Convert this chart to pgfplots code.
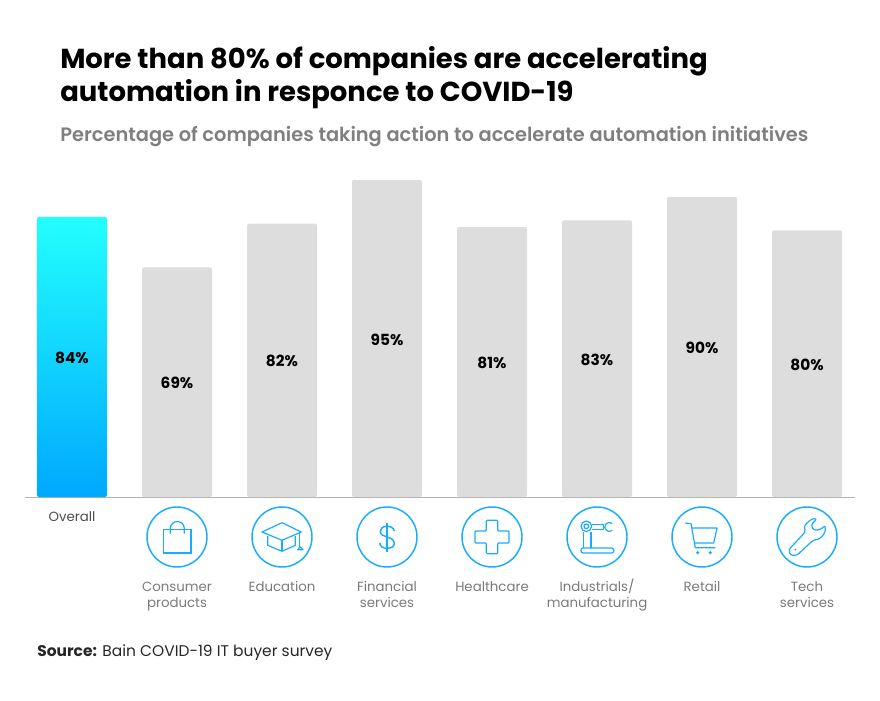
\documentclass[border=0pt]{standalone}
\usepackage{fontspec}
\setmainfont{Poppins}
\newfontfamily\semib{Poppins SemiBold}
\usepackage{pgfplots}
\usepackage{pgfplotstable}
\pgfplotsset{compat=1.18}

% 1 reference pixel
\newlength\px
\setlength\px{0.75pt}

\definecolor{barblue}{HTML}{00A8FF}
\definecolor{bartop}{HTML}{22FFFF}
\definecolor{bargray}{HTML}{DDDDDD}
\definecolor{iconblue}{HTML}{18ACFF}
\definecolor{subgray}{HTML}{7F7F7F}
\definecolor{labgray}{HTML}{7A7A7A}

\pgfplotstableread{
x v
0 84
}\overalltable
\pgfplotstableread{
x v
1 69
2 82
3 95
4 81
5 83
6 90
7 80
}\sectortable

\begin{document}
\begin{tikzpicture}[x=1\px,y=1\px]
\path[use as bounding box] (0,0) rectangle (880,700);

\node[anchor=base west,inner sep=0,font=\fontsize{20.6}{24}\selectfont\bfseries,text=black] at (60,631) {More than 80\% of companies are accelerating};
\node[anchor=base west,inner sep=0,font=\fontsize{20.6}{24}\selectfont\bfseries,text=black] at (60,598) {automation in responce to COVID-19};
\node[anchor=base west,inner sep=0,font=\fontsize{14.55}{18}\selectfont\semib,text=subgray] at (60,558) {Percentage of companies taking action to accelerate automation initiatives};

\begin{axis}[
    at={(25\px,203\px)},
    anchor=south west,
    scale only axis,
    width=622.5pt,
    height=250.3pt,
    xmin=-0.4476, xmax=7.457,
    ymin=0.6, ymax=100,
    ybar,
    bar width=52.5pt,
    bar shift=0pt,
    axis x line=bottom,
    axis y line=none,
    axis line style={draw=gray!60,-},
    xtick={1,...,7},
    xticklabels={{Consumer\\products},{Education},{Financial\\services},{Healthcare},{Industrials\smash{/}\\manufacturing},{Retail},{Tech\\services}},
    major tick length=0pt,
    xticklabel style={anchor=north,align=center,text=labgray,yshift=-80\px,font=\fontsize{10}{12}\selectfont},
    extra x ticks={0},
    extra x tick labels={Overall},
    extra x tick style={xticklabel style={yshift=70\px,text=black!70}},
    nodes near coords={\pgfmathprintnumber[assume math mode=true]{\pgfplotspointmeta}\%},
    point meta=y,
    visualization depends on={y/2 \as \halfv},
    every node near coord/.append style={
        anchor=center,
        shift={(axis direction cs:0,-\halfv)},
        text=black,
        font=\fontsize{11.5}{13}\selectfont\bfseries
    },
]
\addplot[draw=none,top color=bartop,bottom color=barblue,rounded corners=2\px] table[x=x,y=v] {\overalltable};
\addplot[draw=none,fill=bargray,rounded corners=2\px] table[x=x,y=v] {\sectortable};
\end{axis}

% icons, offsets in px from the centre of each circle
\begin{scope}[shift={(0,700)},y=-1\px,draw=iconblue,line width=1.1pt]
\foreach \cx in {177,282,387,492,597,702,807}
    \draw (\cx,537) circle[radius=30];
\begin{scope}[shift={(177,537)},line width=.9pt]
    \draw (-13.3,-7.7) rectangle (14,16);
    \draw (-6.7,-3.3) -- (-6.7,-8.5) arc[start angle=180,end angle=360,radius=7] -- (7.3,-3.3);
\end{scope}
\begin{scope}[shift={(282,537)},line width=.9pt,line join=round]
    \draw (-20,-5) -- (0,-14.3) -- (19.3,-5) -- (0,3.3) -- cycle;
    \draw (-14.3,-1) -- (-14.3,8.3) -- (0,14.3) -- (13.3,8.3) -- (13.3,-1);
    \draw (0,3.3) -- (0,14.3);
    \draw (17.7,-5) -- (17.7,10.7);
    \draw (15.7,12.7) -- (18.3,10) -- (21,12.7) -- cycle;
\end{scope}
\begin{scope}[shift={(387,537)},line width=1.1pt]
    \draw (7.3,-6) .. controls (6.5,-9.5) and (3.5,-10.7) .. (0,-10.7)
          .. controls (-4,-10.7) and (-6.7,-8.7) .. (-6.7,-6)
          .. controls (-6.7,-2) and (-3,-1) .. (0,0)
          .. controls (3.5,1) and (7.3,2.5) .. (7.3,6.7)
          .. controls (7.3,9.5) and (4,11.3) .. (0,11.3)
          .. controls (-4,11.3) and (-7,9.5) .. (-7.3,6);
    \draw (0,-14.3) -- (0,15);
\end{scope}
\begin{scope}[shift={(492,537)},line width=.9pt,rounded corners=1\px]
    \draw (-5.7,-16.7) -- (5.7,-16.7) -- (5.7,-6) -- (17,-6) -- (17,6) -- (5.7,6)
          -- (5.7,16.7) -- (-5.7,16.7) -- (-5.7,6) -- (-17,6) -- (-17,-6) -- (-5.7,-6) -- cycle;
\end{scope}
\begin{scope}[shift={(597,537)},line width=.9pt]
    \draw[rounded corners=2\px] (-16,11) rectangle (16.7,16);
    \draw (-13.3,-5) -- (-13.3,11) (-6,-5) -- (-6,11);
    \draw (-10.7,-10.7) circle[radius=5.3];
    \draw (-10.7,-10.7) circle[radius=2.3];
    \draw (-5,-12.3) -- (6.7,-12.3) -- (6.7,-7.3) -- (-5,-7.3);
    \draw (15.2,-13.5) arc[start angle=-50,end angle=-310,radius=4.5];
\end{scope}
\begin{scope}[shift={(702,537)},line width=.9pt,line join=round]
    \draw (-16.7,-14) -- (-11,-13.3) -- (-6.7,10.7) -- (13.3,10.7);
    \draw (-10,-9) -- (15,-9) -- (11.7,6) -- (-7.7,6);
    \fill[iconblue] (-4.3,15.7) circle[radius=1.7] (8.3,15.7) circle[radius=1.7];
\end{scope}
\begin{scope}[shift={(807,537)},line width=.9pt]
    \draw[rounded corners=2.5\px] (-18.3,12.7) -- (-1.7,-5) -- (-2.7,-11.7) -- (5,-18.3) -- (10,-18.3) -- (4,-12.3)
          -- (6.7,-6.7) -- (13.3,-7.3) -- (18.3,-11.7) -- (18.3,-5) -- (13.3,1.7) -- (6,3.3) -- (-10,18.3) -- (-16.7,18.3) -- cycle;
    \fill[iconblue] (-11.7,12.7) circle[radius=1];
\end{scope}
\end{scope}

\node[anchor=base west,inner sep=0,font=\fontsize{11.6}{14}\selectfont,text=black!85] at (37,44) {\textbf{Source:} Bain COVID-19 IT buyer survey};
\end{tikzpicture}
\end{document}
